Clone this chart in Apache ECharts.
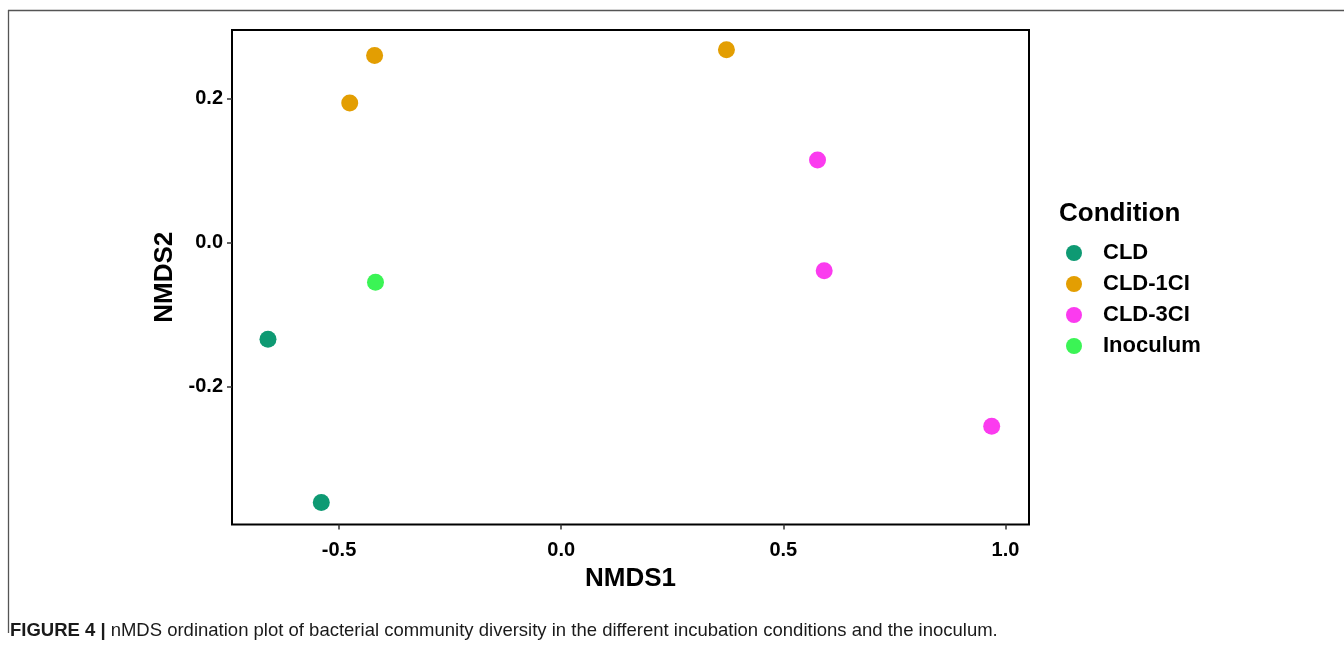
<!DOCTYPE html>
<html>
<head>
<meta charset="utf-8">
<script src="https://cdn.jsdelivr.net/npm/echarts@6/dist/echarts.min.js"></script>
<style>
html,body{margin:0;padding:0;background:#fff;}
#chart{width:1344px;height:647px;}
</style>
</head>
<body>
<div id="chart"></div>
<script>
// Data (NMDS1, NMDS2)
const conditions = ['CLD', 'CLD-1CI', 'CLD-3CI', 'Inoculum'];
const cldPoints = [[-0.660, -0.134], [-0.540, -0.361]];
const cld1ciPoints = [[-0.420, 0.260], [-0.476, 0.194], [0.372, 0.268]];
const cld3ciPoints = [[0.577, 0.115], [0.592, -0.039], [0.969, -0.255]];
const inoculumPoints = [[-0.418, -0.055]];
const xTickValues = [-0.5, 0.0, 0.5, 1.0];
const yTickValues = [-0.2, 0.0, 0.2];
const colors = ['#0E9A73', '#E39E02', '#FB3BEF', '#3BF455'];

const seriesData = [cldPoints, cld1ciPoints, cld3ciPoints, inoculumPoints];
const FONT = '"Liberation Sans", Arial, sans-serif';

const chart = echarts.init(document.getElementById('chart'), null, {renderer: 'canvas'});
const option = {
  backgroundColor: '#ffffff',
  animation: false,
  title: [{
    text: 'Condition',
    left: 1054, top: 196,
    textStyle: {fontFamily: FONT, fontWeight: 'bold', fontSize: 26, color: '#000'}
  }, {
    text: '{b|FIGURE 4 |} {r|nMDS ordination plot of bacterial community diversity in the different incubation conditions and the inoculum.}',
    left: 5, top: 616,
    textStyle: {
      fontWeight: 'normal',
      rich: {
        b: {fontFamily: FONT, fontWeight: 'bold', fontSize: 18.5, color: '#1a1a1a'},
        r: {fontFamily: FONT, fontWeight: 'normal', fontSize: 18.5, color: '#1a1a1a'}
      }
    }
  }],
  legend: {
    orient: 'vertical',
    left: 1061, top: 237,
    itemWidth: 48, itemHeight: 16, itemGap: 9,
    icon: 'circle',
    data: conditions,
    textStyle: {fontFamily: FONT, fontWeight: 'bold', fontSize: 22, color: '#000', lineHeight: 20}
  },
  grid: {
    left: 232, top: 30, width: 797, height: 494.5,
    show: true, borderColor: '#000', borderWidth: 2, backgroundColor: '#fff',
    containLabel: false
  },
  xAxis: {
    type: 'value', min: -0.741, max: 1.053,
    name: 'NMDS1', nameLocation: 'middle', nameGap: 40,
    nameTextStyle: {fontFamily: FONT, fontWeight: 'bold', fontSize: 26, color: '#000'},
    splitLine: {show: false},
    axisLine: {show: false, onZero: false},
    axisTick: {show: true, length: 5, lineStyle: {color: '#333', width: 1.5}, customValues: xTickValues},
    axisLabel: {
      customValues: xTickValues, margin: 16,
      fontFamily: FONT, fontWeight: 'bold', fontSize: 20, color: '#000',
      formatter: v => Number(v).toFixed(1)
    }
  },
  yAxis: {
    type: 'value', min: -0.3914, max: 0.2954,
    name: 'NMDS2', nameLocation: 'middle', nameGap: 52, nameRotate: 90,
    nameTextStyle: {fontFamily: FONT, fontWeight: 'bold', fontSize: 26, color: '#000'},
    splitLine: {show: false},
    axisLine: {show: false, onZero: false},
    axisTick: {show: true, length: 5, lineStyle: {color: '#333', width: 1.5}, customValues: yTickValues},
    axisLabel: {
      customValues: yTickValues, margin: 9,
      fontFamily: FONT, fontWeight: 'bold', fontSize: 20, color: '#000',
      formatter: v => Number(v).toFixed(1)
    }
  },
  graphic: [
    {type: 'line', shape: {x1: 8, y1: 10.5, x2: 1344, y2: 10.5}, style: {stroke: '#555', lineWidth: 1.3}, silent: true},
    {type: 'line', shape: {x1: 8.5, y1: 10, x2: 8.5, y2: 633}, style: {stroke: '#555', lineWidth: 1.3}, silent: true}
  ],
  series: conditions.map((name, i) => ({
    name: name,
    type: 'scatter',
    data: seriesData[i],
    symbolSize: 17,
    itemStyle: {color: colors[i], opacity: 1}
  }))
};
chart.setOption(option);
</script>
</body>
</html>
